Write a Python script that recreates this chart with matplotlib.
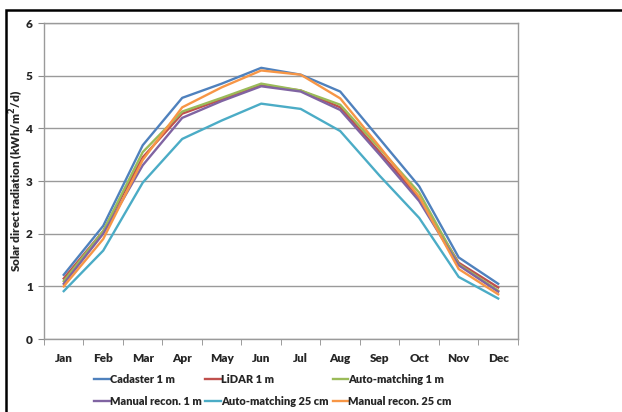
import numpy as np
import matplotlib
matplotlib.use("Agg")
import matplotlib.pyplot as plt
from matplotlib.patches import Rectangle

months = ["Jan", "Feb", "Mar", "Apr", "May", "Jun", "Jul", "Aug", "Sep", "Oct", "Nov", "Dec"]

cadaster_1m = [1.22, 2.15, 3.68, 4.58, 4.85, 5.15, 5.02, 4.70, 3.80, 2.90, 1.55, 1.05]
lidar_1m = [1.15, 2.05, 3.45, 4.28, 4.55, 4.82, 4.72, 4.40, 3.55, 2.68, 1.45, 0.98]
auto_1m = [1.10, 2.05, 3.55, 4.32, 4.58, 4.85, 4.72, 4.45, 3.62, 2.78, 1.42, 0.92]
manual_1m = [1.05, 2.00, 3.30, 4.20, 4.52, 4.80, 4.70, 4.35, 3.50, 2.62, 1.40, 0.90]
auto_25cm = [0.91, 1.68, 2.97, 3.80, 4.15, 4.47, 4.37, 3.95, 3.10, 2.30, 1.18, 0.77]
manual_25cm = [1.00, 1.90, 3.40, 4.40, 4.78, 5.10, 5.02, 4.57, 3.65, 2.70, 1.33, 0.85]

series = [
    ("Cadaster 1 m", cadaster_1m, "#4F81BD"),
    ("LiDAR 1 m", lidar_1m, "#C0504D"),
    ("Auto-matching 1 m", auto_1m, "#9BBB59"),
    ("Manual recon. 1 m", manual_1m, "#8064A2"),
    ("Auto-matching 25 cm", auto_25cm, "#4BACC6"),
    ("Manual recon. 25 cm", manual_25cm, "#F79646"),
]

plt.rcParams["font.family"] = ["Lato", "DejaVu Sans"]
plt.rcParams["font.weight"] = 800
plt.rcParams["mathtext.default"] = "bf"
txt_col = "#262626"

fig = plt.figure(figsize=(6.22, 4.12), dpi=100)
ax = fig.add_axes([0.0707, 0.177, 0.762, 0.767])

x = np.arange(len(months))
lines = {}
for name, vals, col in series:
    lines[name], = ax.plot(x, vals, color=col, lw=1.7, label=name)

ax.set_xlim(-0.5, len(months) - 0.5)
ax.set_ylim(0, 6)
ax.set_yticks(range(0, 7))
ax.set_xticks(x)
ax.set_xticklabels(months, fontsize=8.5, fontweight=800, color=txt_col)
ax.set_xticks(np.arange(-0.5, len(months)), minor=True)
ax.tick_params(axis="x", which="major", length=0, pad=10)
ax.tick_params(axis="x", which="minor", length=4, color="#8c8c8c", direction="out")
ax.tick_params(axis="y", length=4, color="#8c8c8c", labelsize=8.5, pad=4, labelcolor=txt_col)
for lab in ax.get_yticklabels():
    lab.set_fontweight(800)
ax.grid(axis="y", color="#9a9a9a", lw=1)
ax.set_axisbelow(True)
for s in ax.spines.values():
    s.set_color("#9a9a9a")
    s.set_linewidth(1)

ax.set_ylabel("Solar direct radiation (kWh/m$^2$/d)", fontsize=8.5,
              fontweight=800, color=txt_col)
ax.yaxis.set_label_coords(-0.037, 0.5)

order = ["Cadaster 1 m", "Manual recon. 1 m", "LiDAR 1 m",
         "Auto-matching 25 cm", "Auto-matching 1 m", "Manual recon. 25 cm"]
leg = fig.legend([lines[n] for n in order], order, loc="upper left",
                 bbox_to_anchor=(0.142, 0.105), ncol=3, frameon=False,
                 fontsize=7.9, handlelength=1.45, handletextpad=0.0,
                 columnspacing=0.35, labelspacing=0.95, borderpad=0)
for t in leg.get_texts():
    t.set_fontweight(800)
    t.set_color(txt_col)

fig.patches.append(Rectangle((6 / 622, -0.1), 1.2, (412 - 10) / 412 + 0.1,
                             transform=fig.transFigure, fill=False,
                             edgecolor="black", lw=1.8))

fig.savefig("out.png", dpi=100)
